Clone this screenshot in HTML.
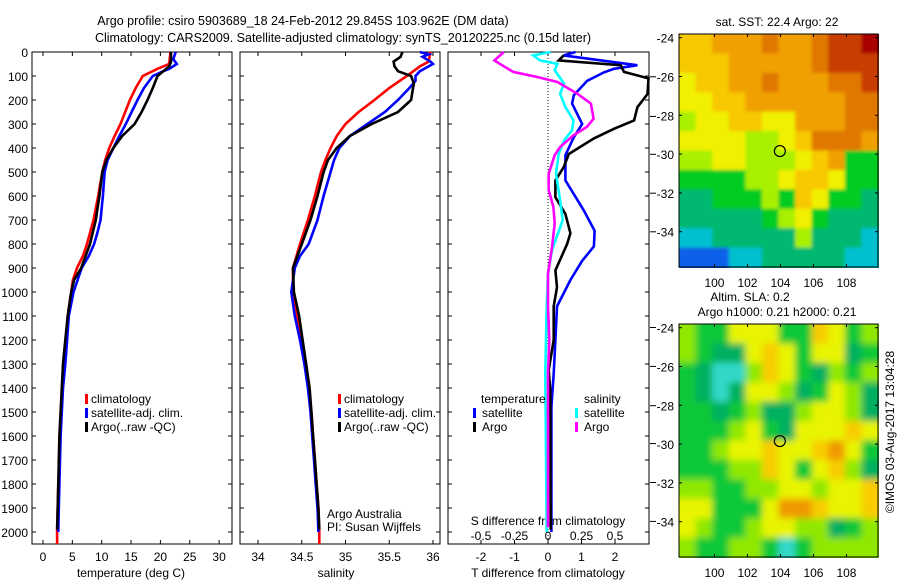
<!DOCTYPE html>
<html><head><meta charset="utf-8">
<style>
html,body{margin:0;padding:0;background:#fff;}
svg{display:block;font-family:"Liberation Sans",sans-serif;}
</style></head>
<body>
<svg id="fig" width="900" height="580" viewBox="0 0 900 580">
<defs>
<filter id="blurA" x="0" y="0" width="1" height="1"><feGaussianBlur stdDeviation="1.5"/><feComponentTransfer><feFuncA type="table" tableValues="1 1"/></feComponentTransfer></filter>
<filter id="blurB" x="0" y="0" width="1" height="1"><feGaussianBlur stdDeviation="3.5"/><feComponentTransfer><feFuncA type="table" tableValues="1 1"/></feComponentTransfer></filter>
</defs>
<text x="303" y="25" font-size="12.5" text-anchor="middle">Argo profile: csiro 5903689_18 24-Feb-2012 29.845S 103.962E (DM data)</text>
<text x="343" y="42" font-size="12.5" text-anchor="middle">Climatology: CARS2009. Satellite-adjusted climatology: synTS_20120225.nc (0.15d later)</text>
</svg>
<script>
// ---------- data ----------
const depthTicks=[0,100,200,300,400,500,600,700,800,900,1000,1100,1200,1300,1400,1500,1600,1700,1800,1900,2000];
const tTicks=[0,5,10,15,20,25,30];
const sTicks=[34,34.5,35,35.5,36];
const dTTicks=[-2,-1,0,1,2];
const dSTicks=[-0.5,-0.25,0,0.25,0.5];
const dSTickLabels=["-0.5","-0.25","0","0.25","0.5"];

const climTdepth=[0,50,70,100,150,200,250,300,350,400,450,500,600,700,800,850,900,950,1000,1100,1200,1300,1400,1500,1600,1700,1800,1900,2000,2050];
const climT=[21.7,21.5,19.5,17.0,15.8,14.8,14.0,13.2,12.2,11.3,10.6,10.1,9.4,8.6,7.5,6.8,5.8,5.1,4.8,4.2,3.9,3.6,3.3,3.1,2.9,2.8,2.6,2.5,2.4,2.4];
const satTdepth=[0,30,50,70,80,100,150,200,250,300,350,400,450,500,600,700,750,800,850,900,950,1000,1100,1200,1300,1400,1500,1600,1700,1800,1900,2000];
const satT=[22.6,22.2,22.8,21.5,20.5,18.7,17.2,16.1,15.1,14.1,13.0,12.0,11.0,10.5,10.2,9.8,9.3,8.7,7.8,6.6,5.9,5.2,4.4,4.1,3.8,3.4,3.2,3.0,2.9,2.8,2.7,2.6];
const argoTdepth=[0,40,60,90,100,150,200,250,300,350,400,450,500,600,700,800,900,950,1000,1100,1200,1300,1400,1500,1600,1700,1800,1900,1990];
const argoT=[21.8,21.8,21.5,20.0,19.5,18.7,17.8,16.8,15.6,13.5,12.0,10.8,10.1,9.6,9.0,8.0,6.5,5.3,4.8,4.2,3.8,3.4,3.2,3.0,2.8,2.7,2.6,2.5,2.4];

const climSdepth=[0,40,60,100,150,200,250,300,350,400,450,500,600,700,800,900,1000,1100,1200,1300,1400,1500,1600,1700,1800,1900,2000,2050];
const climS=[35.97,35.95,35.85,35.7,35.5,35.33,35.15,35.0,34.9,34.83,34.77,34.72,34.65,34.57,34.48,34.4,34.4,34.45,34.5,34.55,34.58,34.61,34.63,34.65,34.67,34.69,34.70,34.70];
const satSdepth=[0,10,20,40,50,60,80,100,120,150,200,250,300,350,400,450,500,600,700,800,850,900,1000,1100,1200,1300,1400,1500,1600,1700,1800,1900,2000];
const satS=[35.85,35.95,35.88,35.97,36.0,35.95,35.85,35.8,35.8,35.73,35.6,35.45,35.25,35.05,34.93,34.87,34.83,34.75,34.68,34.58,34.48,34.42,34.38,34.42,34.48,34.53,34.57,34.6,34.62,34.64,34.66,34.68,34.69];
const argoSdepth=[0,20,40,60,80,100,130,200,250,300,350,400,450,500,600,700,800,850,900,1000,1100,1200,1300,1400,1500,1600,1700,1800,1900,1990];
const argoS=[35.65,35.63,35.55,35.56,35.6,35.75,35.78,35.75,35.6,35.3,35.05,34.9,34.8,34.75,34.68,34.6,34.5,34.45,34.4,34.41,34.47,34.51,34.55,34.59,34.61,34.63,34.65,34.67,34.69,34.70];

const dTsatDepth=[0,14,55,70,85,120,180,215,300,355,430,535,660,745,810,870,950,1060,1200,1340,1480,2000];
const dTsat=[0.82,0.47,2.67,1.97,1.67,1.17,0.77,0.72,1.02,0.77,0.52,0.52,1.07,1.39,1.37,1.02,0.67,0.27,0.22,0.17,0.1,0.1];
const dTargoDepth=[14,35,55,83,110,175,230,285,320,360,425,480,535,605,675,755,800,910,980,1060,1200,1325,1410,1990];
const dTargo=[0.47,0.32,2.17,2.27,3.0,2.97,2.67,2.57,1.97,1.37,0.62,0.47,0.22,0.22,0.52,0.67,0.57,0.22,0.27,0.17,0.17,0.02,0.07,0.08];
const dSsatDepth=[0,14,35,49,76,132,174,229,285,326,368,424,507,618,701,826,924,1063,1340,2000];
const dSsat=[0.02,-0.11,-0.06,0.07,0.05,0.12,0.09,0.13,0.19,0.18,0.12,0.08,0.06,0.09,0.11,0.03,0,-0.01,-0.02,-0.01];
const dSargoDepth=[0,35,49,83,104,125,174,215,278,312,347,396,430,507,576,646,715,813,924,1063,1200,1340,1480,1980];
const dSargo=[-0.33,-0.4,-0.36,-0.26,-0.08,0.07,0.22,0.32,0.34,0.29,0.19,0.09,0.05,0.005,0.005,0.04,0.05,0.03,0,0,0.01,0,0,0];

const latTicks=[-24,-26,-28,-30,-32,-34];
const lonTicks=[100,102,104,106,108];
const argoLon=103.962, argoLat=-29.845;
const sstGrid=[
[6,6,7,7,7,8,7,7,8,9,9,10],
[6,6,6,7,7,7,7,7,8,9,9,9],
[5,6,6,7,7,8,7,7,7,8,8,9],
[5,5,6,6,7,7,7,7,7,7,8,8],
[4,5,5,6,6,5,5,7,7,7,8,8],
[5,5,5,5,4,4,5,6,8,8,8,7],
[4,4,5,5,4,4,4,5,6,7,3,3],
[3,3,3,3,4,4,5,6,6,5,3,3],
[2,2,3,3,3,4,3,6,5,3,3,2],
[2,2,2,2,2,3,4,5,3,2,2,2],
[1,1,2,2,2,2,2,4,2,2,2,1],
[0,0,0,1,1,2,2,2,2,2,1,1]];
const slaGrid=[
[3,2,2,4,4,4,2,2,5,4,2,3],
[3,2,1,1,4,5,4,2,4,4,1,2],
[2,1,0,0,3,5,4,2,1,3,2,3],
[2,1,0,1,4,4,3,1,2,4,3,1],
[2,2,1,2,3,1,1,3,4,4,3,1],
[2,2,2,3,4,2,1,4,4,4,5,4],
[2,2,3,4,4,5,4,4,5,6,4,2],
[2,2,2,3,3,5,4,2,4,5,3,1],
[3,3,2,2,3,3,4,4,3,4,4,5],
[4,4,2,2,2,4,6,6,5,4,4,5],
[4,3,2,2,3,4,4,3,3,1,2,3],
[3,2,2,3,3,2,0,2,3,3,3,3]];
const sstColors=["#1060e8","#00c0d0","#00b870","#00cc20","#a8f000","#f0f000","#f8c800","#f0a000","#e07800","#c83c00","#a80000"];
const slaColors=["#30d8c8","#00b060","#10c838","#90e800","#e8f400","#f8cc00","#f09800"];

// ---------- helpers ----------
const NS="http://www.w3.org/2000/svg";
const svg=document.getElementById('fig');
function mk(tag,attrs,parent){const e=document.createElementNS(NS,tag);for(const k in attrs)e.setAttribute(k,attrs[k]);(parent||svg).appendChild(e);return e;}
const yD=d=>52+d*0.24;
const xT=t=>43+t*5.87;
const xS=s=>258+(s-34)*87.5;
const xdT=t=>548+t*33.5;
const xdS=s=>548+s*134;

function box(x0,y0,x1,y1,name){const r=mk('rect',{x:x0,y:y0,width:x1-x0,height:y1-y0,fill:'none',stroke:'#000','stroke-width':1});

}
function txt(x,y,s,anchor,name,size){const t=mk('text',{x:x,y:y,'font-size':size||12,'text-anchor':anchor||'middle'});t.textContent=s;

return t;}
function line(x1,y1,x2,y2,name,extra){const l=mk('line',Object.assign({x1:x1,y1:y1,x2:x2,y2:y2,stroke:'#000','stroke-width':1},extra||{}));

}
function prof(xs,ds,xf,color,name){const pts=xs.map((v,i)=>xf(v).toFixed(1)+','+yD(ds[i]).toFixed(1)).join(' ');
const p=mk('polyline',{points:pts,fill:'none',stroke:color,'stroke-width':2.6,'stroke-linejoin':'miter'});

}
function legMark(x,y,color,name){const r=mk('rect',{x:x,y:y-9,width:3,height:10,fill:color});

}

const TOP=52,BOT=544;
const panels=[[32,232,'temperature-panel'],[240,440,'salinity-panel'],[448,649,'difference-panel']];
panels.forEach(p=>{
  box(p[0],TOP,p[1],BOT,p[2]+'-frame');
  depthTicks.forEach(d=>{line(p[0],yD(d),p[0]+4,yD(d),'depth-tick');line(p[1]-4,yD(d),p[1],yD(d),'depth-tick');});
});
depthTicks.forEach(d=>txt(28,yD(d)+5,String(d),'end','depth-label'));

tTicks.forEach(t=>{line(xT(t),TOP,xT(t),TOP+4,'x-tick');line(xT(t),BOT-4,xT(t),BOT,'x-tick');txt(xT(t),561,String(t),'middle','temperature-tick-label');});
txt(131,577,'temperature (deg C)','middle','temperature-axis-title');
sTicks.forEach(s=>{line(xS(s),TOP,xS(s),TOP+4,'x-tick');line(xS(s),BOT-4,xS(s),BOT,'x-tick');txt(xS(s),561,String(s),'middle','salinity-tick-label');});
txt(336,577,'salinity','middle','salinity-axis-title');
dTTicks.forEach(t=>{line(xdT(t),TOP,xdT(t),TOP+4,'x-tick');line(xdT(t),BOT-4,xdT(t),BOT,'x-tick');txt(xdT(t),561,String(t),'middle','t-diff-tick-label');});
txt(548,577,'T difference from climatology','middle','t-diff-axis-title');
dSTicks.forEach((s,i)=>txt(xdS(s),540,dSTickLabels[i],'middle','s-diff-tick-label'));
txt(548,525,'S difference from climatology','middle','s-diff-axis-title');
line(548,TOP,548,BOT,'zero-line',{'stroke-dasharray':'1,2'});
[76.8,116.4,154.3,193.2,231.8,327.5,366.4,405.7,443.6,482.5,521.4].forEach(y=>line(650,y,656,y,'outer-tick'));

prof(climT,climTdepth,xT,'#ff0000','temperature-climatology-line');
prof(satT,satTdepth,xT,'#0000ff','temperature-satellite-line');
prof(argoT,argoTdepth,xT,'#000000','temperature-argo-line');
prof(climS,climSdepth,xS,'#ff0000','salinity-climatology-line');
prof(satS,satSdepth,xS,'#0000ff','salinity-satellite-line');
prof(argoS,argoSdepth,xS,'#000000','salinity-argo-line');
prof(dTsat,dTsatDepth,xdT,'#0000ff','t-diff-satellite-line');
prof(dTargo,dTargoDepth,xdT,'#000000','t-diff-argo-line');
prof(dSsat,dSsatDepth,xdS,'#00ffff','s-diff-satellite-line');
prof(dSargo,dSargoDepth,xdS,'#ff00ff','s-diff-argo-line');

[['#ff0000','climatology'],['#0000ff','satellite-adj. clim.'],['#000000','Argo(..raw -QC)']].forEach((l,i)=>{legMark(85,403+i*14,l[0],'legend-marker');txt(91,403+i*14,l[1],'start','legend-entry');});
[['#ff0000','climatology'],['#0000ff','satellite-adj. clim.'],['#000000','Argo(..raw -QC)']].forEach((l,i)=>{legMark(338,403+i*14,l[0],'legend-marker');txt(344,403+i*14,l[1],'start','legend-entry');});
txt(327,518,'Argo Australia','start','credit-text');
txt(327,531,'PI: Susan Wijffels','start','pi-text');
txt(481,403,'temperature','start','legend-header-temperature');
txt(584,403,'salinity','start','legend-header-salinity');
legMark(473,417,'#0000ff','legend-marker');txt(482,417,'satellite','start','legend-entry');
legMark(473,431,'#000000','legend-marker');txt(482,431,'Argo','start','legend-entry');
legMark(575,417,'#00ffff','legend-marker');txt(584,417,'satellite','start','legend-entry');
legMark(575,431,'#ff00ff','legend-marker');txt(584,431,'Argo','start','legend-entry');

// ---------- maps ----------
const MX0=679,MX1=878,LON0=97.85,LONS=16.5,LAT0=-23.81,LATS=19.4;
function map(grid,colors,y0,name,filt){
  const y1=y0+233;
  const g=mk('g',{filter:'url(#'+filt+')'});
  
  
  const nr=grid.length,nc=grid[0].length,cw=(MX1-MX0)/nc,ch=(y1-y0)/nr;
  grid.forEach((row,r)=>row.forEach((v,c)=>{const cell=mk('rect',{x:(MX0+c*cw).toFixed(2),y:(y0+r*ch).toFixed(2),width:(cw+0.6).toFixed(2),height:(ch+0.6).toFixed(2),fill:colors[v]},g);
    
    }));
  box(MX0,y0,MX1,y1,name+'-frame');
  const lx=l=>MX0+(l-LON0)*LONS, ly=l=>y0+(LAT0-l)*LATS;
  latTicks.forEach(l=>{line(MX0,ly(l),MX0+3,ly(l),'lat-tick');line(MX1-3,ly(l),MX1,ly(l),'lat-tick');txt(674,ly(l)+5,String(l),'end','lat-label');});
  lonTicks.forEach(l=>{line(lx(l),y0,lx(l),y0+3,'lon-tick');line(lx(l),y1-3,lx(l),y1,'lon-tick');txt(lx(l),y1+20,String(l),'middle','lon-label');});
  const c=mk('circle',{cx:lx(argoLon),cy:ly(argoLat),r:5.5,fill:'none',stroke:'#000','stroke-width':1.2});
  
  
}
map(sstGrid,sstColors,34,'sst-map','blurA');
map(slaGrid,slaColors,324,'sla-map','blurB');
txt(777,26,'sat. SST: 22.4 Argo: 22','middle','sst-map-title');
txt(750,301,'Altim. SLA: 0.2','middle','sla-map-title');
txt(777,316,'Argo h1000: 0.21 h2000: 0.21','middle','argo-height-title');
const cr=txt(0,0,'©IMOS 03-Aug-2017 13:04:28','middle','timestamp-credit');
cr.setAttribute('transform','translate(894,432) rotate(-90)');
</script>
</body></html>
